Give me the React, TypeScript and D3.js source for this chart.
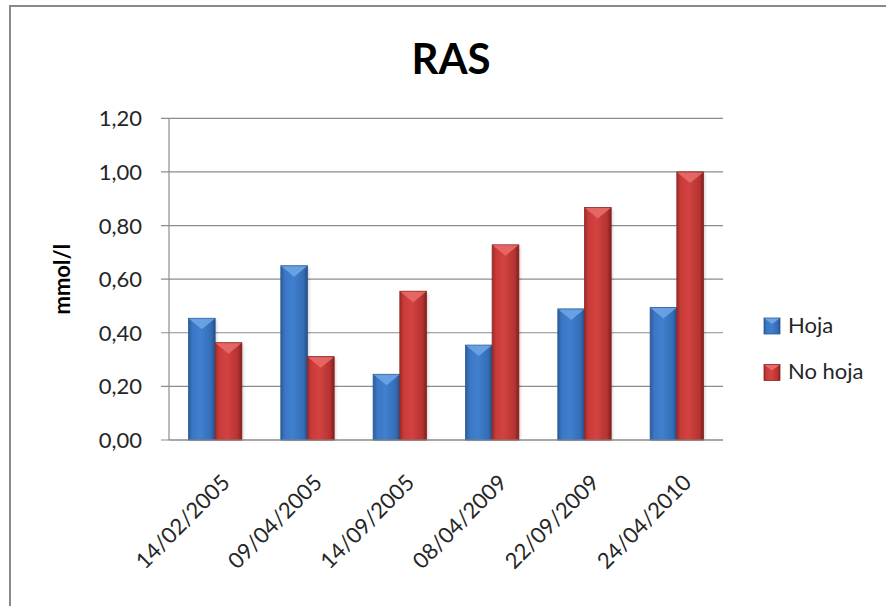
import React from "react";
import * as d3 from "d3";

const categories = ["14/02/2005", "09/04/2005", "14/09/2005", "08/04/2009", "22/09/2009", "24/04/2010"];
const hoja = [0.454, 0.65, 0.245, 0.354, 0.489, 0.494];
const noHoja = [0.363, 0.311, 0.555, 0.728, 0.867, 1.0];
const seriesNames = ["Hoja", "No hoja"];
const yTicks = [0, 0.2, 0.4, 0.6, 0.8, 1.0, 1.2];
const title = "RAS";
const yTitle = "mmol/l";

const W = 886;
const H = 606;
const X0 = 169;
const X1 = 723;
const Y0 = 440;
const Y1 = 118.3;
const FONT = "Lato, 'Open Sans', sans-serif";

export default function App() {
  const x = d3.scaleBand<string>().domain(categories).range([X0, X1]).paddingInner(0).paddingOuter(0);
  const y = d3.scaleLinear().domain([0, 1.2]).range([Y0, Y1]);
  const groupFrac = 0.578;
  const sub = d3
    .scaleBand<string>()
    .domain(seriesNames)
    .range([(x.bandwidth() * (1 - groupFrac)) / 2, (x.bandwidth() * (1 + groupFrac)) / 2]);
  const fmt = (v: number) => d3.format(".2f")(v).replace(".", ",");
  const series = [
    { name: seriesNames[0], values: hoja, grad: "gBlue", bevel: "#6ea4e6", stroke: "#2a5a96" },
    { name: seriesNames[1], values: noHoja, grad: "gRed", bevel: "#e86a68", stroke: "#8e2624" },
  ];

  const bar = (bx: number, top: number, w: number, s: (typeof series)[0], key: string) => {
    const h = Y0 - top;
    const b = Math.min(11, h / 2);
    return (
      <g key={key}>
        <rect x={bx + 1.5} y={top + 1.5} width={w} height={h - 1.5} fill="#000" opacity={0.18} filter="url(#blur)" />
        <rect x={bx} y={top} width={w} height={h} fill={`url(#${s.grad})`} stroke={s.stroke} strokeWidth={0.8} />
        <polygon
          points={`${bx + 0.5},${top + 0.5} ${bx + w - 0.5},${top + 0.5} ${bx + w / 2},${top + b}`}
          fill={s.bevel}
          opacity={0.9}
        />
      </g>
    );
  };

  return (
    <svg width={W} height={H} style={{ position: "absolute", left: 0, top: 0, background: "#fff" }}>
      <defs>
        <linearGradient id="gBlue" x1="0" x2="1" y1="0" y2="0">
          <stop offset="0" stopColor="#2b5c9c" />
          <stop offset="0.15" stopColor="#3b76c4" />
          <stop offset="0.45" stopColor="#4080cf" />
          <stop offset="0.85" stopColor="#346db5" />
          <stop offset="1" stopColor="#244e88" />
        </linearGradient>
        <linearGradient id="gRed" x1="0" x2="1" y1="0" y2="0">
          <stop offset="0" stopColor="#9e2b29" />
          <stop offset="0.15" stopColor="#c93b39" />
          <stop offset="0.45" stopColor="#d24240" />
          <stop offset="0.85" stopColor="#b53331" />
          <stop offset="1" stopColor="#7c1f1d" />
        </linearGradient>
        <filter id="blur" x="-50%" y="-50%" width="200%" height="200%">
          <feGaussianBlur stdDeviation="1.5" />
        </filter>
      </defs>
      <rect x={10} y={6} width={890} height={610} fill="#fff" stroke="#8a8a8a" strokeWidth={2} />
      <text x={451} y={74} textAnchor="middle" fontFamily={FONT} fontWeight="bold" fontSize={42} fill="#000">
        {title}
      </text>
      {yTicks.map((t) => (
        <g key={t}>
          <line x1={X0 - 8} x2={X1} y1={y(t)} y2={y(t)} stroke="#8c8c8c" strokeWidth={1.2} />
          <text x={142} y={y(t) + 8} textAnchor="end" fontFamily={FONT} fontSize={22} fill="#262626">
            {fmt(t)}
          </text>
        </g>
      ))}
      <line x1={X0} x2={X0} y1={Y1} y2={Y0} stroke="#8c8c8c" strokeWidth={1.2} />
      <text
        transform={`translate(70, ${(Y0 + Y1) / 2}) rotate(-90)`}
        textAnchor="middle"
        fontFamily={FONT}
        fontWeight="bold"
        fontSize={22}
        fill="#000"
      >
        {yTitle}
      </text>
      {categories.map((c, i) => (
        <g key={c}>
          {series.map((s) => bar(x(c)! + sub(s.name)!, y(s.values[i]), sub.bandwidth(), s, c + s.name))}
        </g>
      ))}
      <line x1={X0} x2={X1} y1={Y0} y2={Y0} stroke="#8c8c8c" strokeWidth={1.2} />
      {categories.map((c) => {
        const cx = x(c)! + x.bandwidth() / 2 + 16;
        return (
          <text
            key={c}
            transform={`translate(${cx}, 484) rotate(-45)`}
            textAnchor="end"
            fontFamily={FONT}
            fontSize={22}
            fill="#262626"
          >
            {c}
          </text>
        );
      })}
      {series.map((s, i) => {
        const ly = 318 + i * 46.5;
        return (
          <g key={s.name}>
            <rect x={764} y={ly} width={16} height={16} fill={`url(#${s.grad})`} stroke={s.stroke} strokeWidth={0.8} />
            <polygon points={`${764.5},${ly + 0.5} ${779.5},${ly + 0.5} ${772},${ly + 6}`} fill={s.bevel} />
            <text x={788} y={ly + 14.5} fontFamily={FONT} fontSize={22} fill="#262626">
              {s.name}
            </text>
          </g>
        );
      })}
    </svg>
  );
}
